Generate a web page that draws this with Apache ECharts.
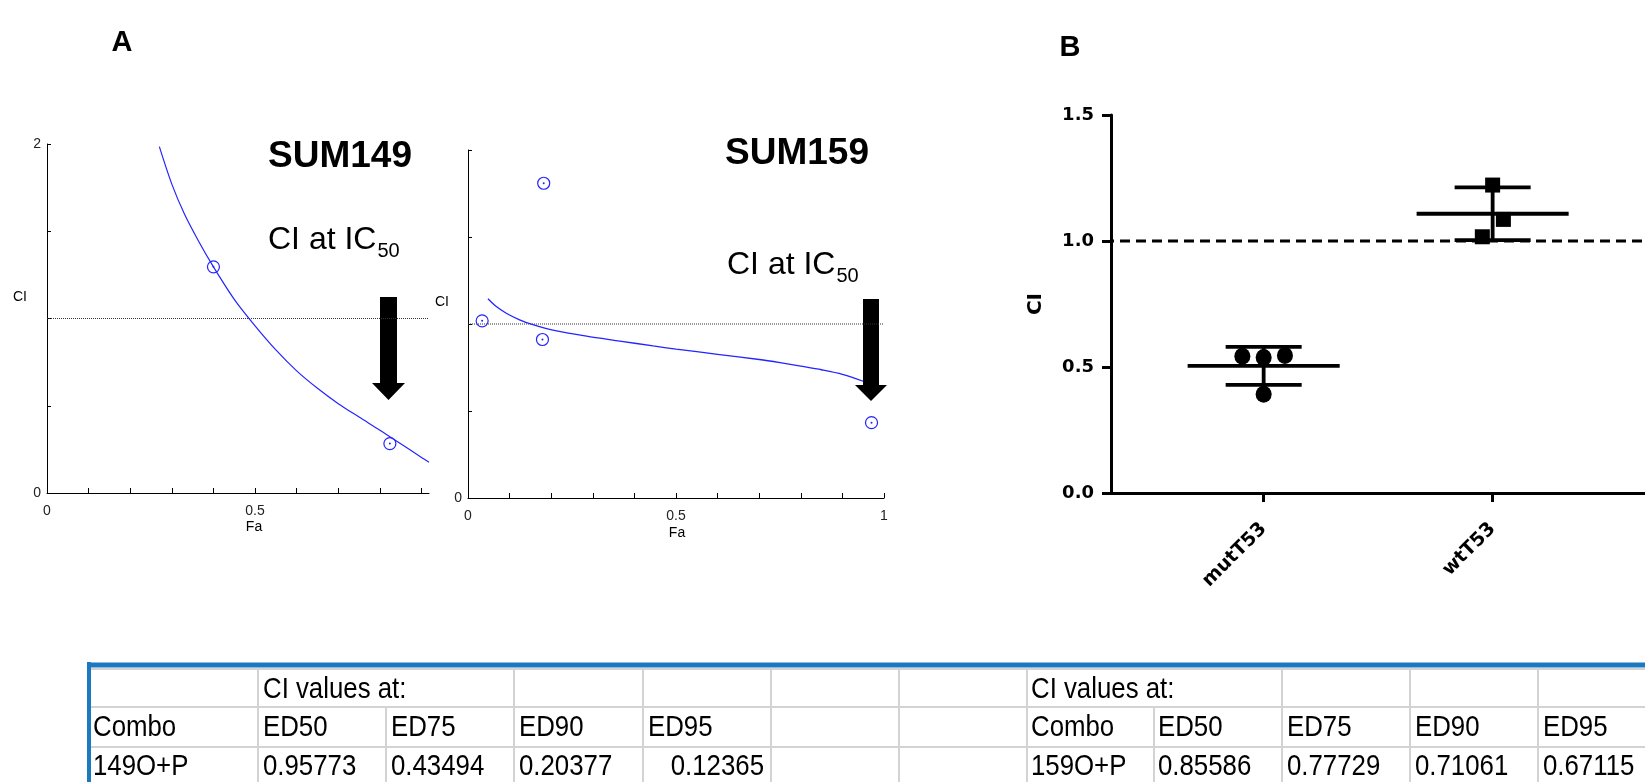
<!DOCTYPE html>
<html><head><meta charset="utf-8">
<script src="https://cdn.jsdelivr.net/npm/echarts@6/dist/echarts.min.js"></script>
<style>html,body{margin:0;padding:0;background:#fff}#c{width:1645px;height:782px}</style>
</head><body><div id="c"></div>
<script>
// ---------- Panel A: SUM149 (CI vs Fa) ----------
const sum149CurveFa = [0.270,0.300,0.330,0.365,0.400,0.450,0.500,0.550,0.600,0.650,0.700,0.750,0.800,0.850,0.900,0.918];
const sum149CurveCI = [1.985,1.770,1.600,1.440,1.296,1.110,0.958,0.820,0.700,0.600,0.512,0.435,0.360,0.282,0.204,0.176];
const sum149PointFa = [0.400,0.824];
const sum149PointCI = [1.296,0.283];
// ---------- Panel A: SUM159 ----------
const sum159CurveFa = [0.048,0.068,0.092,0.124,0.156,0.204,0.285,0.365,0.445,0.500,0.600,0.700,0.750,0.800,0.850,0.900,0.950];
const sum159CurveCI = [1.145,1.100,1.062,1.024,0.996,0.965,0.930,0.902,0.874,0.856,0.826,0.796,0.778,0.758,0.737,0.711,0.671];
const sum159PointFa = [0.034,0.182,0.179,0.970];
const sum159PointCI = [1.018,1.809,0.911,0.433];
const faTicks = [0,0.1,0.2,0.3,0.4,0.5,0.6,0.7,0.8,0.9,1];
// ---------- Panel B ----------
const groups = ['mutT53','wtT53'];
const mutT53CI = [0.543,0.5375,0.5455,0.392];
const wtT53CI = [1.222,1.0857,1.0168];
const yTicksB = [0,0.5,1,1.5];
const refCI = 1.0;
// ---------- Table ----------
const tableHeader = 'CI values at:';
const tableColLabel = 'Combo';
const edLevels = ['ED50','ED75','ED90','ED95'];
const combos = ['149O+P','159O+P'];
const ci149 = [0.95773,0.43494,0.20377,0.12365];
const ci159 = [0.85586,0.77729,0.71061,0.67115];

// layout helpers (styling only)
const mutJitter = [-0.093,0,0.093,0];
const wtJitter = [0,0.047,-0.045];
const BLUE = '#2424ff';
const AF = "'Liberation Sans', Arial, sans-serif";
const BF = "'DejaVu Sans', sans-serif";
const TF = "'Liberation Sans', Arial, sans-serif";

function zip(a,b){return a.map((v,i)=>[v,b[i]]);}
function mean(a){return a.reduce((s,v)=>s+v,0)/a.length;}
function sd(a){const m=mean(a);return Math.sqrt(a.reduce((s,v)=>s+(v-m)*(v-m),0)/(a.length-1));}
const mctx = document.createElement('canvas').getContext('2d');
function tw(text,font){mctx.font=font;return mctx.measureText(text).width;}

const stats = [[1,mean(mutT53CI),sd(mutT53CI)],[2,mean(wtT53CI),sd(wtT53CI)]];

const chart = echarts.init(document.getElementById('c'));

const axA = (gi, max, labelVals) => ({
  gridIndex:gi, type:'value', min:0, max:max,
  axisLine:{show:true,onZero:false,lineStyle:{color:'#000',width:1}},
  axisTick:{show:true,inside:true,length:5,lineStyle:{color:'#000',width:1},customValues:faTicks.filter(v=>v<=max+1e-9)},
  axisLabel:{customValues:labelVals,color:'#222',fontSize:14,fontFamily:AF,margin:11},
  splitLine:{show:false}
});
const ayA = (gi, labelVals) => ({
  gridIndex:gi, type:'value', min:0, max:2, interval:0.5,
  axisLine:{show:true,onZero:false,lineStyle:{color:'#000',width:1}},
  axisTick:{show:true,inside:true,length:4,lineStyle:{color:'#000',width:1}},
  axisLabel:{customValues:labelVals,color:'#222',fontSize:14,fontFamily:AF,margin:6},
  splitLine:{show:false}
});

// graphics
const g = [];
function line(x1,y1,x2,y2,color,w){g.push({type:'line',silent:true,shape:{x1,y1,x2,y2},style:{stroke:color,lineWidth:w}});}
function txt(x,y,text,font,align,rot,sx){g.push({type:'text',silent:true,x:x,y:y,rotation:rot||0,scaleX:sx||1,style:{text:text,font:font,fill:'#000',textAlign:align||'left',textVerticalAlign:'middle'}});}

txt(122,43,'A','bold 29px '+AF,'center');
txt(1070,48,'B','bold 29px '+AF,'center');
txt(340,157,'SUM149','bold 37px '+AF,'center');
txt(797,154,'SUM159','bold 37px '+AF,'center');
const ciFont='32px '+AF, subFont='20px '+AF, ciTxt='CI at IC';
txt(268,240,ciTxt,ciFont,'left');
txt(268+tw(ciTxt,ciFont)+1,251,'50',subFont,'left');
txt(727,265,ciTxt,ciFont,'left');
txt(727+tw(ciTxt,ciFont)+1,276,'50',subFont,'left');
txt(20,297,'CI','14px '+AF,'center');
txt(442,302,'CI','14px '+AF,'center');
txt(254,527,'Fa','14px '+AF,'center');
txt(677,533,'Fa','14px '+AF,'center');
txt(1036,304,'CI','bold 20px '+BF,'center',Math.PI/2);
g.push({type:'polygon',silent:true,shape:{points:[[380,297],[397,297],[397,383],[405,383],[388.5,400],[372,383],[380,383]]},style:{fill:'#000'}});
g.push({type:'polygon',silent:true,shape:{points:[[863,299],[879,299],[879,385],[887,385],[871,401],[855,385],[863,385]]},style:{fill:'#000'}});

// table
const GRAY='#d3d3d3', TBLUE='#1b79c0';
[669,707,747].forEach(y=>line(91,y,1645,y,GRAY,2));
[258,514,643,771,899,1027,1282,1410,1538].forEach(x=>line(x,669,x,782,GRAY,2));
[386,1154].forEach(x=>line(x,707,x,782,GRAY,2));
line(87,665,1645,665,TBLUE,5);
line(89,662,89,782,TBLUE,4);
const tfont = '30px '+TF, SX=0.86;
const r1=690, r2=728, r3=767;
const T=(x,y,s,al)=>txt(x,y,s,tfont,al||'left',0,SX);
T(263,r1,tableHeader); T(1031,r1,tableHeader);
T(93,r2,tableColLabel); T(1031,r2,tableColLabel);
const leftX=[263,391,519,648], rightX=[1158,1287,1415,1543];
edLevels.forEach((e,i)=>{T(leftX[i],r2,e);T(rightX[i],r2,e);});
T(93,r3,combos[0]); T(1031,r3,combos[1]);
ci149.forEach((v,i)=>{ if(i===3) T(764,r3,v.toFixed(5),'right'); else T(leftX[i],r3,v.toFixed(5));});
ci159.forEach((v,i)=>T(rightX[i],r3,v.toFixed(5)));

const option = {
  animation:false,
  backgroundColor:'#fff',
  grid:[
    {left:47,top:144,width:382,height:349},
    {left:468,top:150,width:416,height:348},
    {left:1111,top:115,width:566,height:378}
  ],
  xAxis:[
    axA(0,0.918,[0,0.5]),
    axA(1,1,[0,0.5,1]),
    {gridIndex:2,type:'value',min:1/3,max:1/3+566/242.7,
      axisLine:{show:true,onZero:false,lineStyle:{color:'#000',width:3}},
      axisTick:{show:true,length:9,customValues:[1,2],lineStyle:{color:'#000',width:3}},
      axisLabel:{customValues:[1,2],formatter:v=>groups[Math.round(v)-1],rotate:45,margin:33,
        fontFamily:BF,fontWeight:'bold',fontSize:19,color:'#000'},
      splitLine:{show:false}}
  ],
  yAxis:[
    ayA(0,[0,2]),
    ayA(1,[0]),
    {gridIndex:2,type:'value',min:0,max:1.5,interval:0.5,
      axisLine:{show:true,onZero:false,lineStyle:{color:'#000',width:3}},
      axisTick:{show:true,length:9,lineStyle:{color:'#000',width:3}},
      axisLabel:{customValues:yTicksB,formatter:v=>v.toFixed(1),margin:17,fontFamily:BF,fontWeight:'bold',fontSize:18,color:'#000'},
      splitLine:{show:false}}
  ],
  series:[
    // SUM149
    {type:'line',xAxisIndex:0,yAxisIndex:0,data:[[0,refCI],[0.918,refCI]],symbol:'none',lineStyle:{color:'#333',width:1,type:[1,1]},silent:true},
    {type:'line',xAxisIndex:0,yAxisIndex:0,data:zip(sum149CurveFa,sum149CurveCI),smooth:0.3,symbol:'none',lineStyle:{color:BLUE,width:1.2},silent:true},
    {type:'scatter',xAxisIndex:0,yAxisIndex:0,data:zip(sum149PointFa,sum149PointCI),symbol:'circle',symbolSize:12,itemStyle:{color:'rgba(0,0,0,0)',borderColor:BLUE,borderWidth:1.2,opacity:1},silent:true},
    {type:'scatter',xAxisIndex:0,yAxisIndex:0,data:zip(sum149PointFa,sum149PointCI),symbol:'circle',symbolSize:2,itemStyle:{color:BLUE,opacity:1},silent:true},
    // SUM159
    {type:'line',xAxisIndex:1,yAxisIndex:1,data:[[0,refCI],[1,refCI]],symbol:'none',lineStyle:{color:'#333',width:1,type:[1,1]},silent:true},
    {type:'line',xAxisIndex:1,yAxisIndex:1,data:zip(sum159CurveFa,sum159CurveCI),smooth:0.3,symbol:'none',lineStyle:{color:BLUE,width:1.3},silent:true},
    {type:'scatter',xAxisIndex:1,yAxisIndex:1,data:zip(sum159PointFa,sum159PointCI),symbol:'circle',symbolSize:12,itemStyle:{color:'rgba(0,0,0,0)',borderColor:BLUE,borderWidth:1.2,opacity:1},silent:true},
    {type:'scatter',xAxisIndex:1,yAxisIndex:1,data:zip(sum159PointFa,sum159PointCI),symbol:'circle',symbolSize:2,itemStyle:{color:BLUE,opacity:1},silent:true},
    // Panel B
    {type:'line',xAxisIndex:2,yAxisIndex:2,data:[[1/3,refCI],[1/3+566/242.7,refCI]],symbol:'none',lineStyle:{color:'#000',width:3,type:[10,6],dashOffset:-9},silent:true},
    {type:'custom',xAxisIndex:2,yAxisIndex:2,data:stats,silent:true,
      renderItem:(params,api)=>{
        const x=api.value(0), m=api.value(1), s=api.value(2);
        const p=(a,b)=>api.coord([a,b]);
        const st={stroke:'#000',lineWidth:3.8};
        const seg=(a,b)=>({type:'line',shape:{x1:a[0],y1:a[1],x2:b[0],y2:b[1]},style:st});
        return {type:'group',children:[
          seg(p(x-0.332,m),p(x+0.332,m)),
          seg(p(x,m-s),p(x,m+s)),
          seg(p(x-0.166,m+s),p(x+0.166,m+s)),
          seg(p(x-0.166,m-s),p(x+0.166,m-s))
        ]};
      }},
    {type:'scatter',xAxisIndex:2,yAxisIndex:2,data:mutT53CI.map((v,i)=>[1+mutJitter[i],v]),symbol:'circle',symbolSize:[16,17],itemStyle:{color:'#000',opacity:1},silent:true},
    {type:'scatter',xAxisIndex:2,yAxisIndex:2,data:wtT53CI.map((v,i)=>[2+wtJitter[i],v]),symbol:'rect',symbolSize:15,itemStyle:{color:'#000',opacity:1},silent:true}
  ],
  graphic:{elements:g}
};
chart.setOption(option);
</script></body></html>
